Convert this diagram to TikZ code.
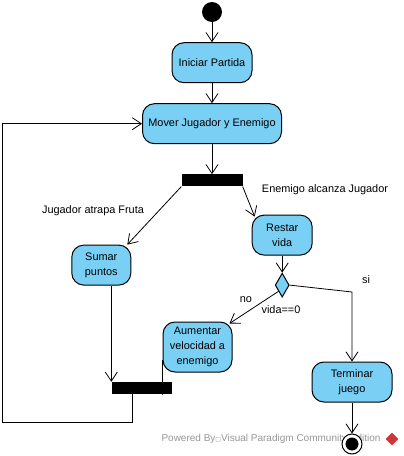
\documentclass[tikz,border=0pt]{standalone}
\usepackage{fontspec}
\setmainfont{Liberation Sans}
\newfontfamily\symfont{DejaVu Sans}
\usepackage{tikz}
\usetikzlibrary{shapes.geometric,arrows.meta,positioning}
\definecolor{actblue}{RGB}{122,207,245}
\definecolor{markgray}{RGB}{150,150,150}
\definecolor{logored}{RGB}{214,52,52}

\begin{document}
\begin{tikzpicture}[
    x=1pt, y=-1pt,
    font=\fontsize{10.9}{15}\selectfont,
    act/.style={rectangle, draw, rounded corners=12pt, fill=actblue, line width=1pt, minimum height=40pt, align=center, inner sep=2pt},
    bar/.style={rectangle, fill=black, minimum width=61pt, minimum height=12pt, inner sep=0pt},
    decision/.style={diamond, draw, fill=actblue, line width=1pt, minimum width=14pt, minimum height=24pt, inner sep=0pt},
    arrow/.style={-{Straight Barb[length=9pt, width=12pt]}, line width=0.8pt},
    guard/.style={inner sep=1pt}
]
    \useasboundingbox (0,0) rectangle (404,456);

    % Watermark
    \node[markgray, anchor=west, font=\fontsize{10}{11}\selectfont] (credit) at (158,439) {Powered By{\symfont\fontsize{6}{7}\selectfont □}Visual Paradigm Community Edition};
    \node[fill=logored, rotate=45, minimum size=9pt, inner sep=0pt] (vplogo) at (392,439) {};

    % Start
    \node[circle, fill=black, minimum size=20pt, inner sep=0pt] (start) at (212,12) {};

    % Main Loop
    \node[act, minimum width=80pt, below=20pt of start] (init) {Iniciar Partida};
    \node[act, minimum width=139pt, below=20pt of init] (move) {Mover Jugador y Enemigo};
    \node[bar, below=30pt of move] (fork) {};

    % Branches
    \node[act, minimum width=59pt, below left=58pt and 50pt of fork] (sumar) {Sumar\\puntos};
    \node[act, minimum width=60pt, below right=28pt and 9pt of fork] (restar) {Restar\\vida};
    \node[decision, below=17pt of restar] (dec) {};
    \node[act, minimum width=69pt, minimum height=50pt] (aum) at (197.5,347) {Aumentar\\velocidad a\\enemigo};
    \node[act, minimum width=80pt] (term) at (352,382) {Terminar\\juego};
    \node[bar, minimum width=60pt] (join) at (142,388) {};

    % End
    \node[circle, draw, fill=white, line width=1pt, minimum size=20pt, inner sep=0pt] (stop) at (352,444) {};
    \node[circle, fill=black, minimum size=13pt, inner sep=0pt] (stopdot) at (stop) {};

    % Labels
    \node[guard] (lblfruta) at (93,211) {Jugador atrapa Fruta};
    \node[guard] (lblenemigo) at (325,190) {Enemigo alcanza Jugador};
    \node[guard] (lblsi) at (366,280) {si};
    \node[guard] (lblno) at (246,300) {no};
    \node[guard] (lblvida) at (281,310) {vida==0};

    \coordinate (siturn) at (352,292);
    \coordinate (back) at (2,422);

    % Arrows
    \draw[arrow] (start) -- (init);
    \draw[arrow] (init) -- (move);
    \draw[arrow] (move) -- (fork);
    \draw[arrow] (fork.south west) -- ([xshift=-4pt]sumar.north east);
    \draw[arrow] (fork.south east) -- ([xshift=3pt,yshift=-2pt]restar.north west);
    \draw[arrow] (restar) -- (dec);
    \draw[arrow] (dec.south west) -- ([xshift=-3pt,yshift=-2pt]aum.north east);
    \draw[arrow] (dec.east) -- (siturn) -- (term);
    \draw[arrow] (term) -- (stop);
    \draw[arrow] ([xshift=10pt]sumar.south) -- ([xshift=10pt]sumar.south |- join.north);
    \draw[arrow] ([yshift=-13pt]aum.west) -- ([yshift=-13pt]aum.west |- join.north);
    \draw[arrow] ([xshift=-10pt]join.south) |- (back) |- (move.west);
\end{tikzpicture}
\end{document}
